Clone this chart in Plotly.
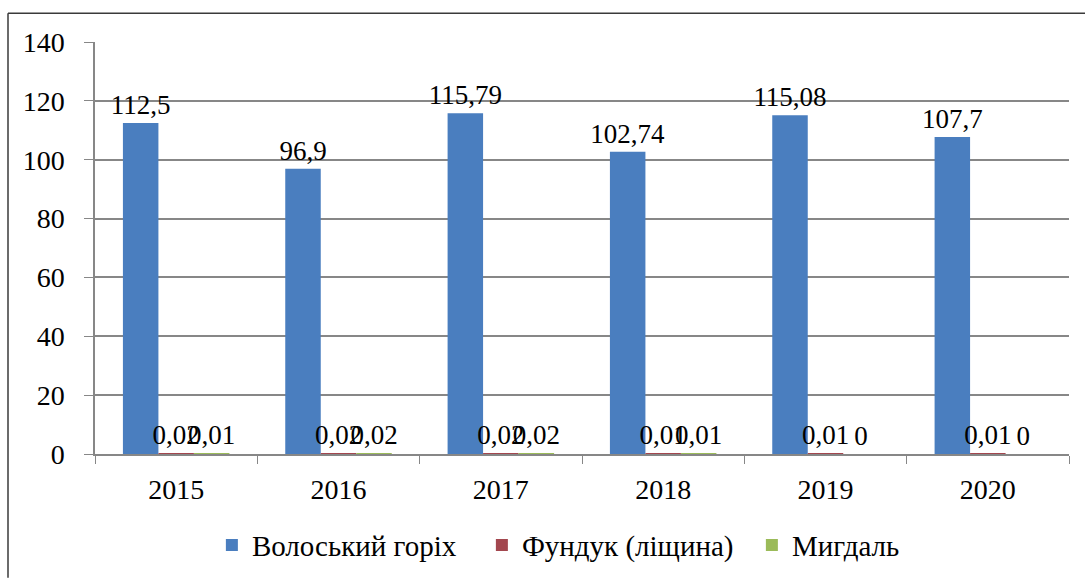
import plotly.graph_objects as go

# Production by year, thousand tonnes
years = ["2015", "2016", "2017", "2018", "2019", "2020"]
walnut = [112.5, 96.9, 115.79, 102.74, 115.08, 107.7]
hazelnut = [0.02, 0.02, 0.02, 0.01, 0.01, 0.01]
almond = [0.01, 0.02, 0.02, 0.01, 0, 0]

series_names = ["Волоський горіх", "Фундук (ліщина)", "Мигдаль"]
series_colors = ["#4A7EBF", "#A3474F", "#9BBB59"]

FONT = "Liberation Serif"
W, H = 1085, 583
ML, MR, MT, MB = 95, 16, 42, 125


def fmt(v):
    # comma decimal separator as in the source data
    return f"{v:g}".replace(".", ",")


fig = go.Figure()
for name, vals, col in zip(series_names, [walnut, hazelnut, almond], series_colors):
    fig.add_trace(go.Bar(
        x=years, y=vals, name=name,
        marker=dict(color=col, line=dict(width=0)),
        text=[fmt(v) for v in vals],
        textposition="outside",
        constraintext="none",
        cliponaxis=False,
        textfont=dict(family=FONT, size=27, color="#000000"),
    ))

# outer frame of the chart (top and left edges visible)
pw = W - ML - MR
ph = H - MT - MB
fx0 = (8 - ML) / pw
fy1 = (H - MB - 13) / ph
fy0 = (H - MB - H) / ph
fx1 = (W - ML) / pw
frame = dict(type="line", xref="paper", yref="paper",
             line=dict(color="#3a3a3a", width=1.5))
shapes = [
    dict(frame, x0=fx0, x1=fx1, y0=fy1, y1=fy1),
    dict(frame, x0=fx0, x1=fx0, y0=fy0, y1=fy1),
]

fig.update_layout(
    width=W, height=H,
    margin=dict(l=ML, r=MR, t=MT, b=MB, pad=0),
    paper_bgcolor="white", plot_bgcolor="white",
    barmode="group", bargap=0.344, bargroupgap=0,
    font=dict(family=FONT, size=27, color="#000000"),
    shapes=shapes,
    showlegend=True,
    legend=dict(
        orientation="h", x=0.120, xanchor="left", y=-0.221, yanchor="middle",
        entrywidth=225, entrywidthmode="pixels",
        font=dict(family=FONT, size=29, color="#000000"),
        bgcolor="rgba(0,0,0,0)", traceorder="normal",
    ),
    xaxis=dict(
        type="category", showgrid=False, showline=True,
        linecolor="#878787", linewidth=1.5,
        ticks="outside", tickson="boundaries", ticklen=8, tickcolor="#878787",
        tickfont=dict(family=FONT, size=28, color="#000000"),
        ticklabelstandoff=10,
    ),
    yaxis=dict(
        range=[0, 140], tickmode="array", tickvals=[0, 20, 40, 60, 80, 100, 120, 140],
        showgrid=True, gridcolor="#878787", gridwidth=1.5,
        showline=True, linecolor="#878787", linewidth=1.5,
        ticks="outside", ticklen=9, tickcolor="#878787",
        tickfont=dict(family=FONT, size=28, color="#000000"),
        ticklabelstandoff=14, zeroline=False,
    ),
)

fig.write_html("out.html")
